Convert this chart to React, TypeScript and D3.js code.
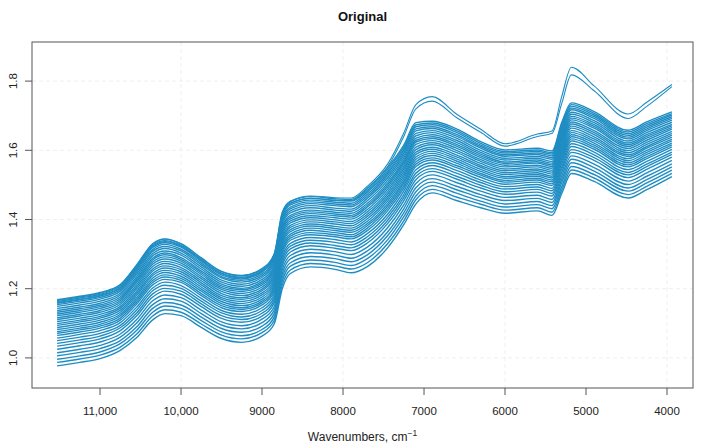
import * as d3 from 'd3';

// wavenumber grid (cm-1) shared by every spectrum
const wavenumbers = [
  11530, 11250, 11000, 10750, 10550, 10350, 10200, 10000, 9750, 9500, 9250, 9000,
  8850, 8750, 8650, 8400, 8100, 7900, 7700, 7450, 7250, 7100, 6900, 6600, 6300,
  6000, 5600, 5420, 5300, 5180, 4900, 4480, 4250, 3940,
];

// absorbance of the main group of spectra (top to bottom)
const spectra: number[][] = [
  [1.168, 1.178, 1.189, 1.212, 1.268, 1.330, 1.344, 1.330, 1.289, 1.250, 1.238, 1.258, 1.300, 1.420, 1.452, 1.466, 1.460, 1.458, 1.490, 1.550, 1.615, 1.680, 1.684, 1.662, 1.625, 1.601, 1.606, 1.598, 1.680, 1.737, 1.712, 1.658, 1.682, 1.711],
  [1.163, 1.173, 1.184, 1.207, 1.263, 1.325, 1.339, 1.325, 1.284, 1.245, 1.233, 1.253, 1.295, 1.414, 1.447, 1.461, 1.455, 1.453, 1.484, 1.544, 1.609, 1.674, 1.679, 1.657, 1.620, 1.596, 1.601, 1.593, 1.675, 1.732, 1.707, 1.653, 1.677, 1.706],
  [1.158, 1.168, 1.179, 1.202, 1.257, 1.319, 1.333, 1.320, 1.279, 1.240, 1.228, 1.248, 1.290, 1.409, 1.442, 1.456, 1.450, 1.447, 1.479, 1.538, 1.603, 1.668, 1.674, 1.652, 1.615, 1.592, 1.597, 1.589, 1.670, 1.727, 1.702, 1.648, 1.672, 1.702],
  [1.154, 1.164, 1.175, 1.198, 1.252, 1.313, 1.328, 1.314, 1.274, 1.235, 1.224, 1.243, 1.285, 1.403, 1.436, 1.451, 1.445, 1.442, 1.473, 1.533, 1.598, 1.662, 1.668, 1.646, 1.611, 1.587, 1.592, 1.584, 1.665, 1.722, 1.697, 1.643, 1.667, 1.697],
  [1.149, 1.159, 1.170, 1.193, 1.247, 1.308, 1.322, 1.309, 1.269, 1.231, 1.219, 1.238, 1.280, 1.398, 1.431, 1.446, 1.440, 1.437, 1.467, 1.527, 1.592, 1.656, 1.663, 1.641, 1.606, 1.583, 1.588, 1.579, 1.659, 1.717, 1.692, 1.638, 1.662, 1.692],
  [1.143, 1.153, 1.164, 1.187, 1.241, 1.301, 1.316, 1.303, 1.263, 1.225, 1.213, 1.233, 1.274, 1.391, 1.425, 1.440, 1.433, 1.430, 1.461, 1.520, 1.585, 1.649, 1.657, 1.635, 1.600, 1.577, 1.582, 1.574, 1.653, 1.710, 1.686, 1.633, 1.657, 1.687],
  [1.137, 1.147, 1.158, 1.182, 1.234, 1.295, 1.309, 1.297, 1.257, 1.219, 1.207, 1.227, 1.268, 1.385, 1.419, 1.434, 1.427, 1.424, 1.454, 1.513, 1.578, 1.642, 1.651, 1.629, 1.594, 1.572, 1.577, 1.568, 1.647, 1.704, 1.680, 1.627, 1.651, 1.681],
  [1.132, 1.142, 1.153, 1.176, 1.228, 1.288, 1.303, 1.290, 1.251, 1.213, 1.201, 1.221, 1.262, 1.378, 1.412, 1.427, 1.421, 1.418, 1.447, 1.506, 1.571, 1.635, 1.645, 1.623, 1.589, 1.566, 1.572, 1.563, 1.641, 1.698, 1.674, 1.621, 1.645, 1.675],
  [1.127, 1.137, 1.148, 1.171, 1.223, 1.283, 1.298, 1.285, 1.246, 1.208, 1.197, 1.216, 1.257, 1.373, 1.407, 1.422, 1.416, 1.412, 1.441, 1.500, 1.566, 1.629, 1.639, 1.617, 1.584, 1.562, 1.567, 1.558, 1.636, 1.693, 1.669, 1.616, 1.640, 1.671],
  [1.122, 1.132, 1.143, 1.166, 1.218, 1.277, 1.292, 1.280, 1.241, 1.203, 1.192, 1.211, 1.252, 1.367, 1.402, 1.417, 1.411, 1.407, 1.436, 1.494, 1.560, 1.624, 1.634, 1.612, 1.579, 1.557, 1.563, 1.553, 1.631, 1.688, 1.664, 1.611, 1.635, 1.666],
  [1.116, 1.126, 1.137, 1.161, 1.211, 1.271, 1.286, 1.274, 1.235, 1.198, 1.186, 1.205, 1.245, 1.361, 1.396, 1.411, 1.405, 1.401, 1.429, 1.487, 1.553, 1.617, 1.628, 1.606, 1.573, 1.552, 1.557, 1.548, 1.625, 1.682, 1.657, 1.605, 1.629, 1.661],
  [1.111, 1.121, 1.132, 1.155, 1.205, 1.264, 1.279, 1.268, 1.229, 1.192, 1.180, 1.199, 1.239, 1.354, 1.390, 1.405, 1.399, 1.394, 1.422, 1.480, 1.546, 1.609, 1.622, 1.600, 1.568, 1.546, 1.552, 1.542, 1.618, 1.676, 1.651, 1.599, 1.623, 1.655],
  [1.105, 1.115, 1.126, 1.149, 1.199, 1.257, 1.273, 1.261, 1.223, 1.186, 1.174, 1.194, 1.233, 1.347, 1.383, 1.399, 1.393, 1.388, 1.415, 1.473, 1.539, 1.602, 1.616, 1.594, 1.562, 1.541, 1.546, 1.537, 1.612, 1.670, 1.645, 1.593, 1.617, 1.649],
  [1.099, 1.109, 1.120, 1.144, 1.192, 1.251, 1.266, 1.255, 1.217, 1.180, 1.169, 1.188, 1.227, 1.341, 1.377, 1.393, 1.387, 1.382, 1.409, 1.466, 1.532, 1.595, 1.609, 1.587, 1.556, 1.535, 1.541, 1.531, 1.606, 1.664, 1.639, 1.587, 1.611, 1.644],
  [1.094, 1.104, 1.115, 1.138, 1.186, 1.244, 1.260, 1.249, 1.211, 1.174, 1.163, 1.182, 1.221, 1.334, 1.371, 1.387, 1.380, 1.375, 1.402, 1.460, 1.525, 1.588, 1.603, 1.581, 1.551, 1.530, 1.535, 1.525, 1.600, 1.657, 1.633, 1.582, 1.606, 1.638],
  [1.088, 1.098, 1.109, 1.132, 1.180, 1.238, 1.253, 1.243, 1.205, 1.169, 1.157, 1.176, 1.215, 1.328, 1.365, 1.381, 1.374, 1.369, 1.395, 1.453, 1.518, 1.581, 1.597, 1.575, 1.545, 1.524, 1.530, 1.520, 1.594, 1.651, 1.627, 1.576, 1.600, 1.632],
  [1.082, 1.092, 1.103, 1.126, 1.173, 1.231, 1.247, 1.236, 1.199, 1.163, 1.151, 1.170, 1.209, 1.321, 1.358, 1.375, 1.368, 1.363, 1.388, 1.446, 1.511, 1.574, 1.591, 1.569, 1.539, 1.519, 1.525, 1.514, 1.588, 1.645, 1.621, 1.570, 1.594, 1.627],
  [1.076, 1.086, 1.097, 1.121, 1.167, 1.224, 1.240, 1.230, 1.193, 1.157, 1.145, 1.164, 1.203, 1.314, 1.352, 1.369, 1.362, 1.356, 1.382, 1.439, 1.505, 1.567, 1.585, 1.563, 1.533, 1.513, 1.519, 1.509, 1.582, 1.639, 1.615, 1.564, 1.588, 1.621],
  [1.071, 1.081, 1.092, 1.115, 1.161, 1.218, 1.234, 1.224, 1.186, 1.151, 1.140, 1.159, 1.197, 1.308, 1.346, 1.362, 1.356, 1.350, 1.375, 1.432, 1.498, 1.560, 1.578, 1.556, 1.528, 1.508, 1.514, 1.503, 1.575, 1.633, 1.609, 1.558, 1.582, 1.616],
  [1.065, 1.075, 1.086, 1.109, 1.155, 1.211, 1.227, 1.218, 1.180, 1.145, 1.134, 1.153, 1.191, 1.301, 1.340, 1.356, 1.350, 1.344, 1.368, 1.425, 1.491, 1.553, 1.572, 1.550, 1.522, 1.502, 1.508, 1.498, 1.569, 1.627, 1.603, 1.552, 1.576, 1.610],
  [1.057, 1.068, 1.079, 1.102, 1.146, 1.202, 1.219, 1.209, 1.172, 1.137, 1.126, 1.145, 1.183, 1.292, 1.331, 1.348, 1.342, 1.335, 1.359, 1.415, 1.482, 1.544, 1.564, 1.542, 1.514, 1.495, 1.501, 1.490, 1.561, 1.619, 1.595, 1.544, 1.568, 1.603],
  [1.050, 1.060, 1.071, 1.094, 1.138, 1.194, 1.210, 1.201, 1.164, 1.130, 1.118, 1.137, 1.175, 1.284, 1.323, 1.340, 1.334, 1.327, 1.350, 1.406, 1.472, 1.534, 1.556, 1.534, 1.507, 1.488, 1.494, 1.483, 1.553, 1.611, 1.587, 1.536, 1.560, 1.595],
  [1.042, 1.052, 1.063, 1.087, 1.129, 1.185, 1.201, 1.193, 1.156, 1.122, 1.111, 1.129, 1.167, 1.275, 1.315, 1.332, 1.325, 1.318, 1.341, 1.397, 1.463, 1.525, 1.547, 1.525, 1.499, 1.480, 1.487, 1.475, 1.545, 1.602, 1.579, 1.529, 1.553, 1.588],
  [1.034, 1.044, 1.055, 1.079, 1.121, 1.176, 1.193, 1.184, 1.148, 1.114, 1.103, 1.121, 1.159, 1.266, 1.306, 1.324, 1.317, 1.310, 1.332, 1.388, 1.454, 1.515, 1.539, 1.517, 1.491, 1.473, 1.479, 1.468, 1.536, 1.594, 1.571, 1.521, 1.545, 1.580],
  [1.025, 1.035, 1.046, 1.069, 1.110, 1.165, 1.182, 1.174, 1.138, 1.104, 1.093, 1.112, 1.148, 1.255, 1.296, 1.314, 1.307, 1.299, 1.320, 1.376, 1.442, 1.504, 1.529, 1.507, 1.482, 1.464, 1.470, 1.458, 1.526, 1.584, 1.560, 1.511, 1.535, 1.571],
  [1.015, 1.025, 1.036, 1.060, 1.100, 1.154, 1.171, 1.164, 1.128, 1.095, 1.084, 1.102, 1.138, 1.244, 1.286, 1.304, 1.297, 1.288, 1.309, 1.364, 1.431, 1.492, 1.518, 1.496, 1.472, 1.455, 1.461, 1.449, 1.516, 1.574, 1.550, 1.501, 1.525, 1.561],
  [1.006, 1.016, 1.027, 1.050, 1.089, 1.143, 1.160, 1.153, 1.118, 1.085, 1.074, 1.092, 1.128, 1.233, 1.275, 1.293, 1.287, 1.278, 1.298, 1.353, 1.419, 1.480, 1.508, 1.486, 1.463, 1.445, 1.452, 1.440, 1.506, 1.564, 1.540, 1.491, 1.515, 1.552],
  [0.996, 1.006, 1.017, 1.041, 1.079, 1.132, 1.150, 1.143, 1.108, 1.075, 1.064, 1.082, 1.118, 1.222, 1.265, 1.283, 1.276, 1.267, 1.287, 1.341, 1.408, 1.468, 1.498, 1.476, 1.453, 1.436, 1.443, 1.431, 1.495, 1.553, 1.530, 1.482, 1.506, 1.543],
  [0.987, 0.997, 1.008, 1.031, 1.068, 1.121, 1.139, 1.132, 1.098, 1.066, 1.055, 1.073, 1.108, 1.211, 1.254, 1.273, 1.266, 1.257, 1.275, 1.330, 1.396, 1.457, 1.487, 1.465, 1.444, 1.427, 1.434, 1.421, 1.485, 1.543, 1.520, 1.472, 1.496, 1.533],
  [0.977, 0.987, 0.998, 1.022, 1.058, 1.110, 1.128, 1.122, 1.088, 1.056, 1.045, 1.063, 1.098, 1.200, 1.244, 1.263, 1.256, 1.246, 1.264, 1.318, 1.385, 1.445, 1.477, 1.455, 1.434, 1.418, 1.425, 1.412, 1.475, 1.533, 1.510, 1.462, 1.486, 1.524],
];

// the two spectra that break away above the group after ~7300 cm-1
const outlierSpectra: number[][] = [
  [1.166, 1.176, 1.187, 1.210, 1.266, 1.328, 1.343, 1.329, 1.288, 1.249, 1.237, 1.257, 1.299, 1.420, 1.453, 1.468, 1.463, 1.462, 1.496, 1.560, 1.650, 1.732, 1.755, 1.705, 1.661, 1.619, 1.647, 1.656, 1.755, 1.840, 1.786, 1.705, 1.739, 1.790],
  [1.160, 1.170, 1.181, 1.204, 1.260, 1.322, 1.336, 1.323, 1.282, 1.243, 1.231, 1.251, 1.293, 1.412, 1.446, 1.461, 1.456, 1.455, 1.489, 1.552, 1.640, 1.720, 1.742, 1.695, 1.652, 1.612, 1.640, 1.649, 1.735, 1.818, 1.772, 1.692, 1.727, 1.784],
];

const xTicks = [11000, 10000, 9000, 8000, 7000, 6000, 5000, 4000];
const xTickLabels = ['11,000', '10,000', '9000', '8000', '7000', '6000', '5000', '4000'];
const xGrid = [10000, 8000, 6000, 4000];
const yTicks = [1.0, 1.2, 1.4, 1.6, 1.8];
const yTickLabels = ['1.0', '1.2', '1.4', '1.6', '1.8'];

const FONT = '"Liberation Sans", Arial, Helvetica, sans-serif';
const LINE_COLOR = '#1f8dc3';

export default function App() {
  const width = 703;
  const height = 448;
  const margin = { top: 42, right: 10, bottom: 60, left: 32 };

  const x = d3.scaleLinear()
    .domain([11840, 3679])
    .range([margin.left, width - margin.right]);

  const y = d3.scaleLinear()
    .domain([0.913, 1.913])
    .range([height - margin.bottom, margin.top]);

  const line = d3.line<number>()
    .x((_, i) => x(wavenumbers[i]))
    .y(d => y(d))
    .curve(d3.curveMonotoneX);

  const left = margin.left;
  const right = width - margin.right;
  const top = margin.top;
  const bottom = height - margin.bottom;

  return (
    <svg
      width={width}
      height={height}
      style={{ position: 'absolute', left: 0, top: 0, background: '#fff' }}
      fontFamily={FONT}
    >
      {/* grid */}
      {yTicks.map(t => (
        <line key={'gy' + t} x1={left} x2={right} y1={y(t)} y2={y(t)}
          stroke="#efefef" strokeWidth={1} strokeDasharray="4 3" />
      ))}
      {xGrid.map(t => (
        <line key={'gx' + t} x1={x(t)} x2={x(t)} y1={top} y2={bottom}
          stroke="#efefef" strokeWidth={1} strokeDasharray="4 3" />
      ))}

      {/* spectra */}
      <g fill="none" stroke={LINE_COLOR}>
        {spectra.map((s, i) => <path key={'s' + i} d={line(s) || ''} strokeWidth={1.4} />)}
        {outlierSpectra.map((s, i) => <path key={'o' + i} d={line(s) || ''} strokeWidth={1.1} />)}
      </g>

      {/* box */}
      <rect x={left} y={top} width={right - left} height={bottom - top}
        fill="none" stroke="#555" strokeWidth={1} />

      {/* x axis */}
      {xTicks.map((t, i) => (
        <g key={'xt' + t} transform={`translate(${x(t)},${bottom})`}>
          <line y2={7} stroke="#555" />
          <text y={27} textAnchor="middle" fontSize={11.5} fill="#222">{xTickLabels[i]}</text>
        </g>
      ))}

      {/* y axis */}
      {yTicks.map((t, i) => (
        <g key={'yt' + t} transform={`translate(${left},${y(t)})`}>
          <line x2={-7} stroke="#555" />
          <text transform="translate(-15,0) rotate(-90)" textAnchor="middle"
            fontSize={11.5} fill="#222">{yTickLabels[i]}</text>
        </g>
      ))}

      <text x={(left + right) / 2} y={21} textAnchor="middle" fontSize={13}
        fontWeight="bold" fill="#111">Original</text>

      <text x={(left + right) / 2} y={441} textAnchor="middle" fontSize={12} fill="#222">
        Wavenumbers, cm
        <tspan dy={-5} fontSize={8.5}>−1</tspan>
      </text>
    </svg>
  );
}
